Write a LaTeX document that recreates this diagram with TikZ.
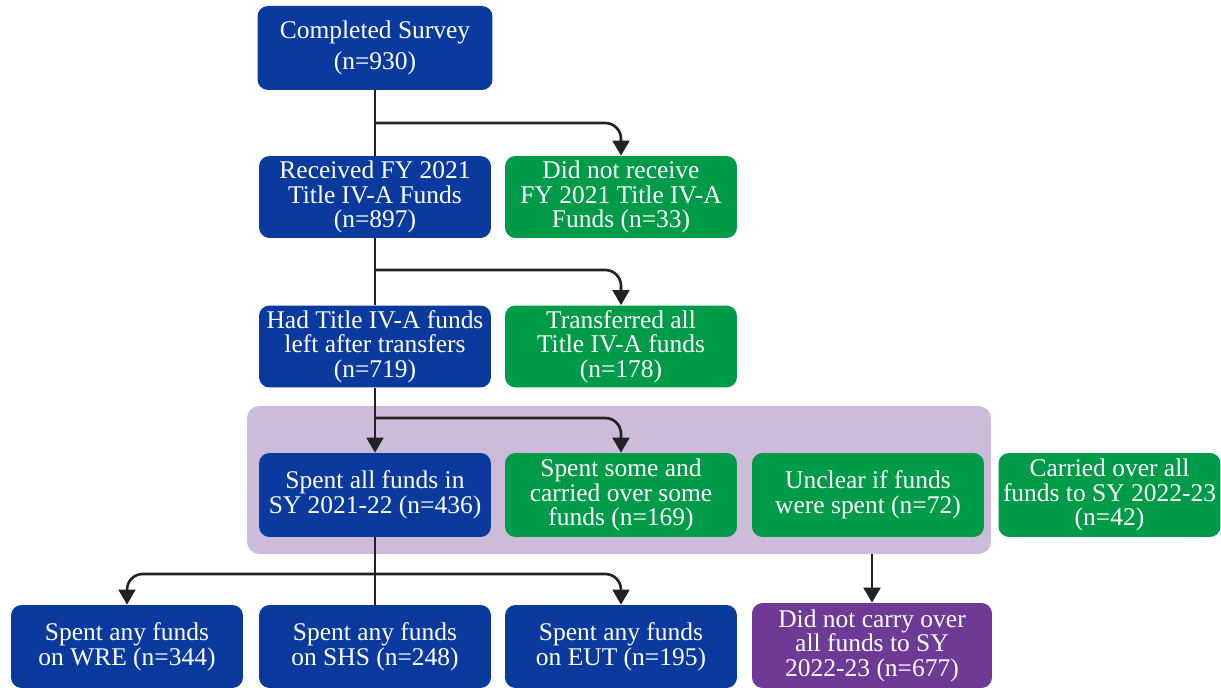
\documentclass[tikz,border=0pt]{standalone}
\usepackage{fontspec}
\setmainfont{Liberation Serif}
\usetikzlibrary{arrows.meta}
\definecolor{boxblue}{HTML}{0B3A9E}
\definecolor{boxgreen}{HTML}{009B48}
\definecolor{boxpurple}{HTML}{6E3A96}
\definecolor{grplav}{HTML}{CDBBDA}
\definecolor{linegray}{HTML}{222222}
\tikzset{
  box/.style={rounded corners=6pt, text=white, align=center, inner sep=1pt,
    minimum width=4.64cm, minimum height=1.64cm,
    font=\fontsize{14.5}{14}\selectfont},
  bluebox/.style={box, fill=boxblue},
  greenbox/.style={box, fill=boxgreen},
  purplebox/.style={box, fill=boxpurple, minimum width=4.8cm, minimum height=1.7cm},
  link/.style={draw=linegray, line width=1.5pt},
  arrow/.style={link, -{Triangle[width=9.5pt,length=8.5pt]}, rounded corners=9pt}
}
\begin{document}
\begin{tikzpicture}[x=0.02cm, y=-0.02cm]
\useasboundingbox (0,0) rectangle (1221,688);

% shaded group behind the third row
\node[fill=grplav, rounded corners=7pt, minimum width=14.88cm, minimum height=2.96cm] (grp) at (619,480) {};

% boxes
\node[bluebox, minimum width=4.7cm, minimum height=1.68cm] (survey) at (375,48) {Completed Survey\\[4pt](n=930)};
\node[bluebox] (recv) at (375,197) {Received FY 2021\\Title IV-A Funds\\(n=897)};
\node[greenbox] (norecv) at (621,197) {Did not receive\\FY 2021 Title IV-A\\Funds (n=33)};
\node[bluebox] (had) at (375,346.5) {Had Title IV-A funds\\left after transfers\\(n=719)};
\node[greenbox] (trans) at (621,346.5) {Transferred all\\Title IV-A funds\\(n=178)};
\node[bluebox, minimum height=1.68cm] (spall) at (375,495) {Spent all funds in\\SY 2021-22 (n=436)};
\node[greenbox, minimum height=1.68cm] (spsome) at (621,495) {Spent some and\\carried over some\\funds (n=169)};
\node[greenbox, minimum height=1.68cm] (unclear) at (868,495) {Unclear if funds\\were spent (n=72)};
\node[greenbox, minimum width=4.44cm, minimum height=1.68cm] (carried) at (1109.5,495) {Carried over all\\funds to SY 2022-23\\(n=42)};
\node[bluebox, minimum height=1.66cm] (wre) at (127,646.5) {Spent any funds\\on WRE (n=344)};
\node[bluebox, minimum height=1.66cm] (shs) at (375,646.5) {Spent any funds\\on SHS (n=248)};
\node[bluebox, minimum height=1.66cm] (eut) at (621,646.5) {Spent any funds\\on EUT (n=195)};
\node[purplebox] (dnc) at (872,645.5) {Did not carry over\\all funds to SY\\2022-23 (n=677)};

% branch points on the trunk
\coordinate (b1) at (375,123);
\coordinate (b2) at (375,270);
\coordinate (b3) at (375,418);
\coordinate (b4) at (375,574);

% trunk
\draw[link] (survey) -- (recv);
\draw[link] (recv) -- (had);
\draw[arrow] (had) -- (spall);
\draw[link] (spall) -- (shs);

% side branches
\draw[arrow] (b1) -| (norecv.north);
\draw[arrow] (b2) -| (trans.north);
\draw[arrow] (b3) -| (spsome.north);
\draw[arrow] (b4) -| (wre.north);
\draw[arrow] (b4) -| (eut.north);
\draw[arrow] (grp.south -| dnc.north) -- (dnc.north);
\end{tikzpicture}
\end{document}
